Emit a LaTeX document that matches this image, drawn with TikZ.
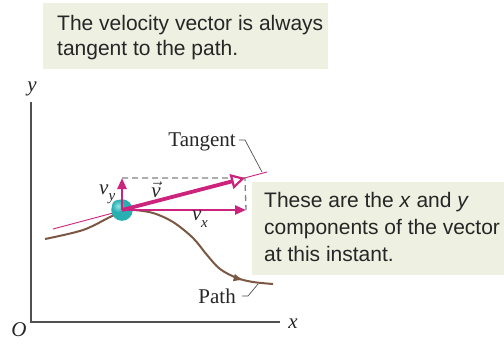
\documentclass[tikz,border=0pt]{standalone}
\usepackage{fontspec}
\setmainfont{Liberation Serif}
\newfontfamily\boxfont{Liberation Sans}
\usetikzlibrary{arrows.meta,decorations.markings}
\definecolor{boxbg}{RGB}{238,240,226}
\definecolor{vecmag}{RGB}{204,36,124}
\definecolor{pathbrown}{RGB}{122,88,67}
\definecolor{ballteal}{RGB}{40,175,178}
\definecolor{balllight}{RGB}{150,228,225}
\definecolor{axisgray}{RGB}{80,80,80}
\definecolor{dashgray}{RGB}{130,130,130}
\begin{document}
\begin{tikzpicture}[x=1pt,y=-1pt,
  notebox/.style={fill=boxbg, draw=none, inner sep=0pt, anchor=north west},
  notetext/.style={font=\boxfont\fontsize{21}{25}\selectfont, align=left, inner sep=0pt, anchor=base west, text=black!85},
  lbl/.style={font=\fontsize{21}{24}\selectfont, inner sep=0pt, text=black!85},
  ilbl/.style={font=\fontsize{21}{24}\selectfont\itshape, inner sep=0pt, text=black!85},
  sublbl/.style={font=\fontsize{15}{16}\selectfont\itshape, inner sep=0pt, text=black!85},
  axisline/.style={draw=axisgray, line width=1.4pt},
  leader/.style={draw=axisgray, line width=0.7pt},
  comp/.style={draw=vecmag, line width=2.4pt, -{Triangle[length=11pt,width=9pt]}},
  velo/.style={draw=vecmag, line width=3.8pt, -{Triangle[open,length=14pt,width=15pt,fill=white,line width=2.2pt]}},
]
\useasboundingbox (0,0) rectangle (504,349);

% note boxes
\node[notebox, minimum width=285pt, minimum height=66pt] (topbox) at (43,3) {};
\node[notetext] (toptext) at (57,55) {The velocity vector is always\\tangent to the path.};
\node[notebox, minimum width=252pt, minimum height=93pt] (rightbox) at (252,182) {};
\node[notetext, font=\boxfont\fontsize{21}{26.7}\selectfont] (righttext) at (264,261) {These are the \textit{x} and \textit{y}\\components of the vector\\at this instant.};

% axes
\coordinate (ytop) at (31,102);
\coordinate (origin) at (31,322);
\coordinate (xend) at (280,322);
\draw[axisline] (ytop) -- (origin) -- (xend);
\node[ilbl, anchor=base] (ylab) at (32,91) {y};
\node[ilbl, anchor=base] (xlab) at (293,328) {x};
\node[ilbl, anchor=base] (olab) at (19,336) {O};

% tangent line
\coordinate (tanA) at (53,229);
\coordinate (tanB) at (267,172);
\draw[vecmag, line width=0.9pt] (tanA) -- (tanB);

% path curve
\draw[pathbrown, line width=2pt, postaction={decorate},
  decoration={markings, mark=at position 0.885 with {\arrow{Latex[length=10pt,width=8pt]}}}]
  plot[smooth, tension=0.55] coordinates {(45,239) (83,230) (110,217) (122,211.5) (133,210) (153,213) (173,222) (193,238) (207,255) (220,269) (237,278) (253,282) (273,284)};

% dashed rectangle
\coordinate (c) at (122,210);
\coordinate (vtip) at (245,178);
\coordinate (vxtip) at (246,210);
\coordinate (vytip) at (122,178);
\draw[dashgray, line width=1.3pt, dash pattern=on 6pt off 4pt] (vytip) -- (vtip) -- (vxtip);

% ball
\fill[ballteal] (c) circle (10.8pt);
\shade[inner color=balllight, outer color=ballteal] (118,206) circle (6pt);
\node[inner sep=0pt, minimum size=0pt] (ball) at (c) {};

% vectors
\draw[comp] (ball) -- (vxtip);
\draw[comp] (ball) -- (vytip);
\draw[velo] (ball) -- (vtip);

% vector labels
\node[ilbl, anchor=base west] (vy) at (99,194) {v};
\node[sublbl, anchor=base west] (vysub) at (108.5,200) {y};
\node[ilbl, anchor=base] (vvec) at (156,197) {$\vec{\mbox{\itshape v}}$};
\node[ilbl, anchor=base west] (vx) at (192,220) {v};
\node[sublbl, anchor=base west] (vxsub) at (201,227) {x};

% Tangent label and leader
\node[lbl, anchor=base east] (tanlab) at (236,146) {Tangent};
\coordinate (tl1) at (239,140);
\coordinate (tl2) at (245,140);
\coordinate (tl3) at (262,172);
\draw[leader] (tl1) -- (tl2) -- (tl3);

% Path label and leader
\node[lbl, anchor=base east] (pathlab) at (236,303) {Path};
\coordinate (pl1) at (242,296);
\coordinate (pl2) at (248,296);
\coordinate (pl3) at (258,284);
\draw[leader] (pl1) -- (pl2) -- (pl3);
\end{tikzpicture}
\end{document}
